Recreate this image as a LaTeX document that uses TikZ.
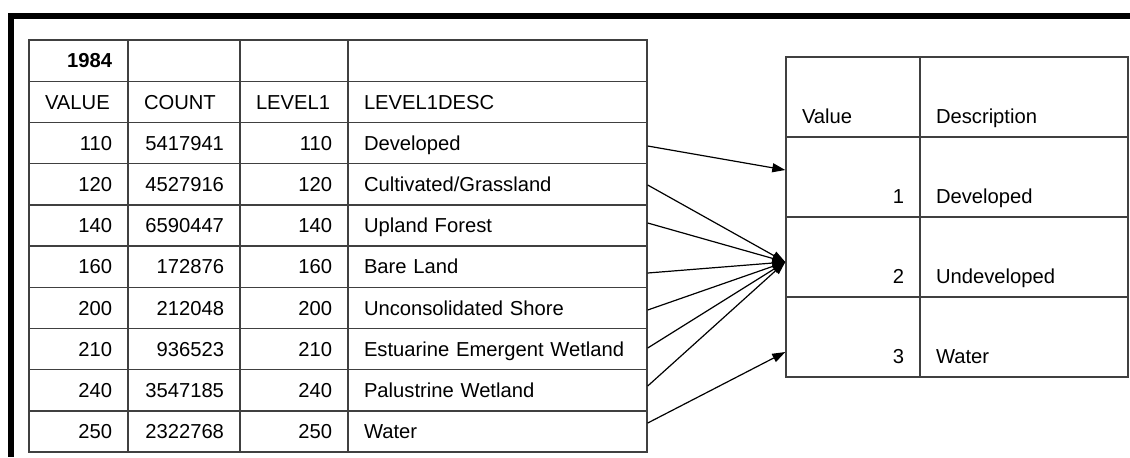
\documentclass[tikz,border=0pt]{standalone}
\usepackage{fontspec}
\setmainfont{Liberation Sans}
\usepackage{tikz}
\usetikzlibrary{arrows.meta}

\tikzset{
  cell/.style={draw=black!75, line width=0.7pt, rectangle, inner xsep=8pt, inner ysep=0pt,
               minimum height=20.6pt, text height=7.2pt, text depth=0pt,
               font=\fontsize{10.1pt}{12pt}\selectfont},
  colA/.style={cell, text width=33.5pt, align=right},
  colB/.style={cell, text width=40pt, align=right},
  colC/.style={cell, text width=38pt, align=right},
  colD/.style={cell, text width=133.5pt, align=left},
  rcell/.style={cell, minimum height=40pt, text height=33pt, text depth=7pt},
  colR/.style={rcell, text width=51pt, align=right},
  colS/.style={rcell, text width=88pt, align=left},
  link/.style={line width=0.6pt, -{Triangle[length=6.5pt,width=4.5pt]}}
}

\begin{document}
\begin{tikzpicture}[x=0.5pt, y=-0.5pt]
      \useasboundingbox (0,0) rectangle (1130,457);
      \fill (8,13) rectangle (1130,19);
      \fill (8,13) rectangle (14,457);

      \node[colA](Hd1984) at (78.5, 60.6) {\textbf{1984}};
      \node[colB](HdBlankB) at (184, 60.6) {};
      \node[colC](HdBlankC) at (294, 60.6) {};
      \node[colD](HdBlankD) at (497.5, 60.6) {};

      \node[colA, align=left](HdValue) at (78.5, 101.8) {VALUE};
      \node[colB, align=left](HdCount) at (184, 101.8) {COUNT};
      \node[colC, align=left](HdLevel) at (294, 101.8) {LEVEL1};
      \node[colD](HdDesc) at (497.5, 101.8) {LEVEL1DESC};

      \node[colA](Val110) at (78.5, 143) {110};
      \node[colB](Cnt110) at (184, 143) {5417941};
      \node[colC](Lev110) at (294, 143) {110};
      \node[colD](Desc110) at (497.5, 143) {Developed};

      \node[colA](Val120) at (78.5, 184.2) {120};
      \node[colB](Cnt120) at (184, 184.2) {4527916};
      \node[colC](Lev120) at (294, 184.2) {120};
      \node[colD](Desc120) at (497.5, 184.2) {Cultivated/Grassland};

      \node[colA](Val140) at (78.5, 225.4) {140};
      \node[colB](Cnt140) at (184, 225.4) {6590447};
      \node[colC](Lev140) at (294, 225.4) {140};
      \node[colD](Desc140) at (497.5, 225.4) {Upland Forest};

      \node[colA](Val160) at (78.5, 266.6) {160};
      \node[colB](Cnt160) at (184, 266.6) {172876};
      \node[colC](Lev160) at (294, 266.6) {160};
      \node[colD](Desc160) at (497.5, 266.6) {Bare Land};

      \node[colA](Val200) at (78.5, 307.8) {200};
      \node[colB](Cnt200) at (184, 307.8) {212048};
      \node[colC](Lev200) at (294, 307.8) {200};
      \node[colD](Desc200) at (497.5, 307.8) {Unconsolidated Shore};

      \node[colA](Val210) at (78.5, 349) {210};
      \node[colB](Cnt210) at (184, 349) {936523};
      \node[colC](Lev210) at (294, 349) {210};
      \node[colD](Desc210) at (497.5, 349) {Estuarine Emergent Wetland};

      \node[colA](Val240) at (78.5, 390.2) {240};
      \node[colB](Cnt240) at (184, 390.2) {3547185};
      \node[colC](Lev240) at (294, 390.2) {240};
      \node[colD](Desc240) at (497.5, 390.2) {Palustrine Wetland};

      \node[colA](Val250) at (78.5, 431.4) {250};
      \node[colB](Cnt250) at (184, 431.4) {2322768};
      \node[colC](Lev250) at (294, 431.4) {250};
      \node[colD](Desc250) at (497.5, 431.4) {Water};

      \node[colR, align=left](RHdValue) at (853, 97) {Value};
      \node[colS](RHdDesc) at (1024, 97) {Description};
        \node[colR](RVal1) at (853, 177) {1};
        \node[colS](RDesc1) at (1024, 177) {Developed};
        \node[colR](RVal2) at (853, 257) {2};
        \node[colS](RDesc2) at (1024, 257) {Undeveloped};
        \node[colR](RVal3) at (853, 337) {3};
        \node[colS](RDesc3) at (1024, 337) {Water};

      \draw[link] (Desc110.east |- 0,146) -- (RVal1.west |- 0,170);
      \draw[link] (Desc120.east |- 0,185) -- (RVal2.west |- 0,262);
      \draw[link] (Desc140.east |- 0,223) -- (RVal2.west |- 0,262);
      \draw[link] (Desc160.east |- 0,273) -- (RVal2.west |- 0,262);
      \draw[link] (Desc200.east |- 0,310) -- (RVal2.west |- 0,262);
      \draw[link] (Desc210.east |- 0,348) -- (RVal2.west |- 0,262);
      \draw[link] (Desc240.east |- 0,386) -- (RVal2.west |- 0,262);
      \draw[link] (Desc250.east |- 0,423) -- (RVal3.west |- 0,352);
\end{tikzpicture}
\end{document}
